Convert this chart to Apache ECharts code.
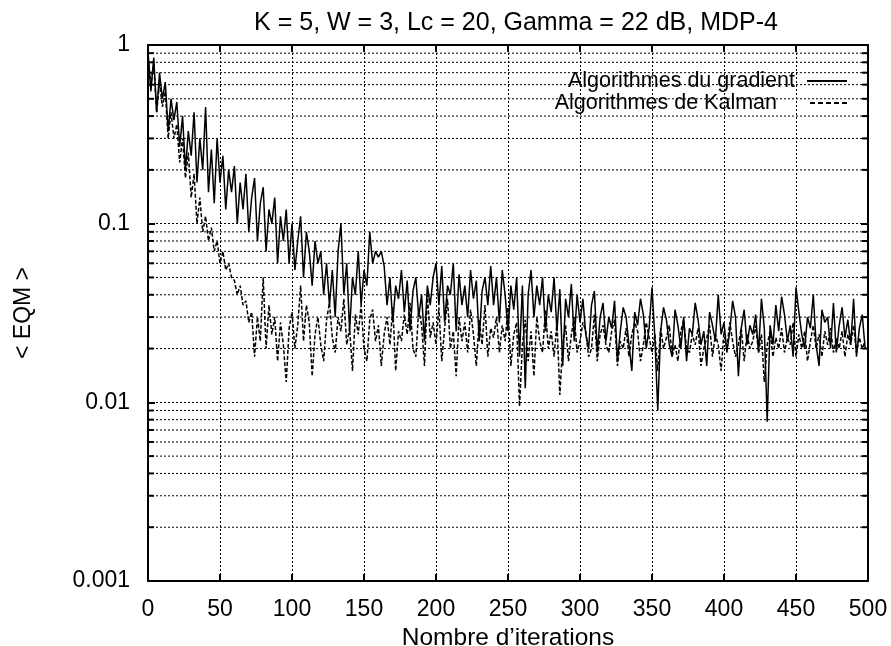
<!DOCTYPE html>
<html>
<head>
<meta charset="utf-8">
<script src="https://cdn.jsdelivr.net/npm/echarts@6/dist/echarts.min.js"></script>
<style>
html,body{margin:0;padding:0;background:#fff;}
#chart{width:891px;height:646px;}
</style>
</head>
<body>
<div id="chart"></div>
<script>
// ---- data ----
const titleText = 'K = 5, W = 3, Lc = 20, Gamma = 22 dB, MDP-4';
const xName = 'Nombre d\u2019iterations';
const yName = '< EQM >';
const seriesNames = ['Algorithmes du gradient', 'Algorithmes de Kalman'];
const iterStep = 2; // one sample every 2 iterations
const xTicks = [0, 50, 100, 150, 200, 250, 300, 350, 400, 450, 500];
const yTickLabels = ['0.001', '0.01', '0.1', '1'];
const yMinorMantissas = [2, 3, 4, 5, 6, 7, 8, 9];
const yDecades = [0.001, 0.01, 0.1];

const gradient = [
  0.92, 0.55, 0.85, 0.42, 0.7, 0.5, 0.62, 0.33, 0.5, 0.38,
  0.48, 0.27, 0.4, 0.2, 0.33, 0.24, 0.42, 0.17, 0.3, 0.2,
  0.45, 0.15, 0.26, 0.13, 0.3, 0.17, 0.24, 0.12, 0.2, 0.15,
  0.21, 0.1, 0.17, 0.12, 0.19, 0.09, 0.14, 0.18, 0.08, 0.13,
  0.16, 0.07, 0.12, 0.1, 0.14, 0.06, 0.11, 0.08, 0.12, 0.06,
  0.1, 0.055, 0.08, 0.11, 0.05, 0.09, 0.07, 0.045, 0.08, 0.06,
  0.07, 0.04, 0.06, 0.035, 0.055, 0.03, 0.07, 0.1, 0.04, 0.06,
  0.025, 0.05, 0.04, 0.07, 0.035, 0.055, 0.045, 0.09, 0.06, 0.07,
  0.065, 0.07, 0.058, 0.035, 0.05, 0.028, 0.045, 0.038, 0.055, 0.032,
  0.048, 0.025, 0.042, 0.05, 0.03, 0.04, 0.022, 0.045, 0.035, 0.05,
  0.06, 0.035, 0.058, 0.028, 0.045, 0.04, 0.06, 0.025, 0.052, 0.035,
  0.045, 0.03, 0.055, 0.038, 0.048, 0.022, 0.042, 0.05, 0.035, 0.058,
  0.035, 0.05, 0.028, 0.055, 0.04, 0.025, 0.045, 0.033, 0.05, 0.018,
  0.045, 0.012, 0.04, 0.055, 0.03, 0.045, 0.035, 0.05, 0.025, 0.04,
  0.032, 0.05, 0.025, 0.043, 0.016, 0.038, 0.03, 0.046, 0.022, 0.04,
  0.028, 0.038, 0.024, 0.02, 0.035, 0.042, 0.019, 0.03, 0.036, 0.022,
  0.03, 0.026, 0.037, 0.017, 0.025, 0.034, 0.03, 0.021, 0.015, 0.032,
  0.027, 0.038, 0.031, 0.02, 0.026, 0.044, 0.023, 0.009, 0.025, 0.034,
  0.029, 0.021, 0.018, 0.033, 0.027, 0.02, 0.03, 0.017, 0.026, 0.024,
  0.036, 0.029, 0.021, 0.025, 0.016, 0.032, 0.027, 0.022, 0.04, 0.024,
  0.028, 0.019, 0.025, 0.037, 0.03, 0.014, 0.026, 0.033, 0.021, 0.027,
  0.024, 0.031, 0.019, 0.038, 0.026, 0.0078, 0.027, 0.021, 0.035, 0.025,
  0.039, 0.031, 0.022, 0.027, 0.018, 0.044, 0.032, 0.024, 0.02, 0.03,
  0.026, 0.04, 0.021, 0.016, 0.033, 0.028, 0.03, 0.02, 0.036, 0.019,
  0.027, 0.034, 0.023, 0.029, 0.021, 0.038, 0.018, 0.026, 0.031, 0.02
];

const kalman = [
  0.85, 0.6, 0.78, 0.42, 0.62, 0.45, 0.55, 0.3, 0.42, 0.3,
  0.36, 0.22, 0.3, 0.18, 0.25, 0.14, 0.19, 0.1, 0.14, 0.09,
  0.11, 0.08, 0.095, 0.07, 0.08, 0.06, 0.07, 0.055, 0.06, 0.05,
  0.048, 0.04, 0.045, 0.035, 0.037, 0.028, 0.032, 0.018, 0.03, 0.022,
  0.05, 0.02, 0.035, 0.024, 0.03, 0.017, 0.028, 0.021, 0.013, 0.026,
  0.032, 0.02, 0.027, 0.045, 0.022, 0.035, 0.028, 0.014, 0.024, 0.03,
  0.021, 0.017, 0.029, 0.036, 0.023, 0.019, 0.03, 0.025, 0.038, 0.021,
  0.026, 0.015, 0.031, 0.024, 0.035, 0.02, 0.017, 0.029, 0.033, 0.022,
  0.027, 0.016, 0.024, 0.03, 0.021, 0.034, 0.015, 0.025, 0.022, 0.031,
  0.024, 0.036, 0.02, 0.018, 0.033, 0.027, 0.016, 0.04, 0.023, 0.028,
  0.021, 0.034, 0.017, 0.026, 0.038, 0.02, 0.025, 0.014, 0.03, 0.022,
  0.028, 0.019, 0.033, 0.024, 0.016, 0.029, 0.021, 0.035, 0.018, 0.026,
  0.023, 0.03, 0.019, 0.027, 0.022, 0.034, 0.016, 0.024, 0.028, 0.0095,
  0.021, 0.029, 0.017, 0.025, 0.014, 0.03, 0.022, 0.019, 0.033, 0.02,
  0.025, 0.018, 0.028, 0.011, 0.021, 0.027, 0.017, 0.024, 0.03, 0.019,
  0.022, 0.028, 0.025, 0.018, 0.02, 0.031, 0.017, 0.024, 0.027, 0.021,
  0.019, 0.025, 0.029, 0.016, 0.022, 0.02, 0.026, 0.018, 0.024, 0.028,
  0.025, 0.017, 0.021, 0.028, 0.023, 0.019, 0.024, 0.015, 0.026, 0.02,
  0.023, 0.027, 0.018, 0.021, 0.017, 0.025, 0.029, 0.02, 0.019, 0.024,
  0.021, 0.026, 0.016, 0.02, 0.023, 0.027, 0.018, 0.024, 0.021, 0.015,
  0.025, 0.02, 0.028, 0.022, 0.018, 0.021, 0.026, 0.017, 0.024, 0.02,
  0.022, 0.027, 0.019, 0.024, 0.013, 0.021, 0.025, 0.018, 0.023, 0.02,
  0.026, 0.019, 0.023, 0.021, 0.028, 0.018, 0.024, 0.02, 0.025, 0.017,
  0.022, 0.027, 0.02, 0.024, 0.018, 0.025, 0.021, 0.026, 0.019, 0.023,
  0.02, 0.025, 0.018, 0.024, 0.021, 0.027, 0.019, 0.023, 0.02, 0.022
];

// ---- build ----
const FONT = '"Liberation Sans", Arial, Helvetica, sans-serif';
const xMin = xTicks[0], xMax = xTicks[xTicks.length - 1];
const toPairs = arr => arr.map((v, i) => [i * iterStep, v]);
const minorVals = [];
yDecades.forEach(d => yMinorMantissas.forEach(m => minorVals.push(m * d)));

const solidIcon = 'path://M0,0h40v2h-40z';
const dashIcon = 'path://M0,0h5v2h-5z M8,0h5v2h-5z M16,0h5v2h-5z M24,0h5v2h-5z M32,0h5v2h-5z';

const chart = echarts.init(document.getElementById('chart'), null, {renderer: 'canvas'});

const axisLine = {show: true, onZero: false, lineStyle: {color: '#000', width: 2}};
const tick = {show: true, inside: true, length: 7, lineStyle: {color: '#000', width: 2}};
const gridDot = {show: true, lineStyle: {color: '#000', width: 1, type: [2, 2]}};

chart.setOption({
  animation: false,
  backgroundColor: '#fff',
  title: {
    text: titleText,
    left: 511,
    top: 6,
    textAlign: 'center',
    textStyle: {fontFamily: FONT, fontSize: 25, fontWeight: 'normal', color: '#000'}
  },
  legend: [
    {
      data: [{name: seriesNames[0], icon: solidIcon}],
      orient: 'vertical', align: 'right', right: 39, top: 65,
      itemWidth: 40, itemHeight: 2, selectedMode: false,
      itemStyle: {color: '#000'},
      textStyle: {fontFamily: FONT, fontSize: 21.5, color: '#000', padding: [0, 7, 0, 0]}
    },
    {
      data: [{name: seriesNames[1], icon: dashIcon}],
      orient: 'vertical', align: 'right', right: 39, top: 87,
      itemWidth: 37, itemHeight: 2, selectedMode: false,
      itemStyle: {color: '#000'},
      textStyle: {fontFamily: FONT, fontSize: 21.5, color: '#000', padding: [0, 28, 0, 0]}
    }
  ],
  grid: {left: 148, right: 23, top: 45, bottom: 65, containLabel: false, outerBoundsMode: 'none'},
  xAxis: [
    {
      type: 'value', position: 'bottom', min: xMin, max: xMax, interval: 50,
      axisLine: axisLine, axisTick: tick,
      axisLabel: {fontFamily: FONT, fontSize: 23, color: '#000', margin: 17},
      splitLine: gridDot,
      name: xName, nameLocation: 'middle', nameGap: 36,
      nameTextStyle: {fontFamily: FONT, fontSize: 24.5, color: '#000'}
    },
    {
      type: 'value', position: 'top', min: xMin, max: xMax, interval: 50,
      axisLine: axisLine, axisTick: tick, axisLabel: {show: false}, splitLine: {show: false}
    }
  ],
  yAxis: [
    {
      type: 'log', logBase: 10, min: 0.001, max: 1, position: 'left',
      axisLine: axisLine, axisTick: tick,
      axisLabel: {
        fontFamily: FONT, fontSize: 23, color: '#000', margin: 18,
        formatter: v => yTickLabels[Math.round(Math.log10(v)) + 3]
      },
      splitLine: gridDot,
      name: yName, nameLocation: 'middle', nameGap: 113, nameRotate: 90,
      nameTextStyle: {fontFamily: FONT, fontSize: 23, color: '#000'}
    },
    {
      type: 'log', logBase: 10, min: 0.001, max: 1, position: 'right',
      axisLine: axisLine, axisTick: tick, axisLabel: {show: false}, splitLine: {show: false}
    }
  ],
  series: [
    {
      name: 'minor-grid',
      type: 'custom',
      xAxisIndex: 0, yAxisIndex: 0,
      silent: true, z: 1,
      data: minorVals.map(v => [xMin, v]),
      encode: {x: 0, y: 1},
      renderItem: function (params, api) {
        const v = api.value(1);
        const a = api.coord([xMin, v]);
        const b = api.coord([xMax, v]);
        return {
          type: 'group',
          children: [
            {type: 'line', shape: {x1: a[0], y1: a[1], x2: b[0], y2: b[1]},
             style: {stroke: '#000', lineWidth: 1, lineDash: [2, 2]}},
            {type: 'line', shape: {x1: a[0], y1: a[1], x2: a[0] + 6, y2: a[1]},
             style: {stroke: '#000', lineWidth: 2}},
            {type: 'line', shape: {x1: b[0] - 6, y1: b[1], x2: b[0], y2: b[1]},
             style: {stroke: '#000', lineWidth: 2}}
          ]
        };
      }
    },
    {
      name: seriesNames[1],
      type: 'line', xAxisIndex: 0, yAxisIndex: 0,
      data: toPairs(kalman),
      symbol: 'none', showSymbol: false, z: 3,
      lineStyle: {color: '#000', width: 1.5, type: [4, 2]},
      itemStyle: {color: '#000'}
    },
    {
      name: seriesNames[0],
      type: 'line', xAxisIndex: 0, yAxisIndex: 0,
      data: toPairs(gradient),
      symbol: 'none', showSymbol: false, z: 4,
      lineStyle: {color: '#000', width: 1.5, type: 'solid'},
      itemStyle: {color: '#000'}
    }
  ]
});
</script>
</body>
</html>
